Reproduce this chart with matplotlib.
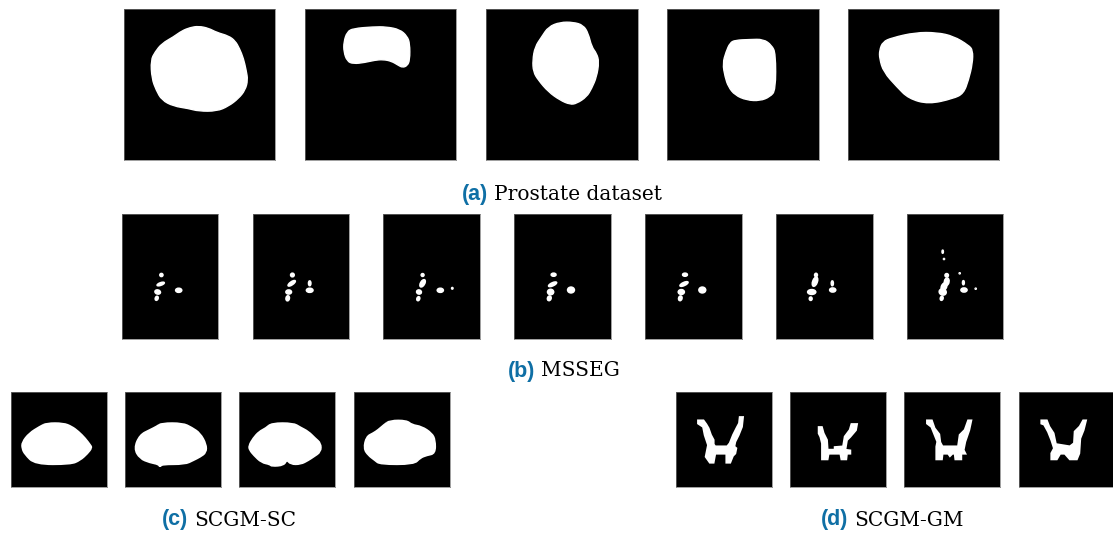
import matplotlib
matplotlib.use("Agg")
import matplotlib.pyplot as plt
from matplotlib.patches import Ellipse, PathPatch
from matplotlib.path import Path

W, H = 1113, 536
BLUE = "#0f6fa5"

# mask outlines at 3x zoom (x, y inside the crop)
prostate_1 = [(235,78),(265,84),(290,97),(325,107),(345,122),(358,145),(370,175),(378,210),(383,240),(375,270),(355,295),(325,318),(290,333),(235,333),(205,325),(160,318),(125,300),(108,270),(95,235),(92,180),(105,155),(125,130),(160,110),(185,92),(210,82)]
prostate_2 = [(700,85),(760,80),(800,80),(840,88),(862,108),(870,130),(870,180),(862,197),(848,202),(835,195),(815,183),(790,178),(765,180),(735,187),(700,191),(682,183),(672,155),(672,125),(682,95)]
prostate_3 = [(240,66),(280,66),(310,75),(325,100),(335,140),(350,160),(357,185),(350,230),(335,265),(320,290),(290,310),(270,313),(240,300),(205,275),(175,240),(160,215),(158,180),(165,140),(185,110),(205,80)]
prostate_4 = [(765,120),(810,118),(850,117),(875,135),(887,160),(887,270),(870,290),(840,302),(800,300),(765,285),(745,260),(735,230),(728,190),(738,155),(750,128)]
prostate_5 = [(225,97),(290,97),(340,108),(385,135),(398,150),(397,190),(385,240),(370,280),(340,295),(265,312),(205,295),(170,260),(130,215),(118,175),(118,150),(128,125),(155,113)]

sc_1 = [(140,115),(190,115),(215,125),(235,140),(255,160),(270,180),(275,188),(262,205),(240,225),(212,237),(105,237),(75,207),(67,190),(67,172),(88,145),(120,125)]
sc_2 = [(485,115),(548,115),(575,128),(600,145),(618,178),(618,202),(600,215),(580,225),(555,237),(485,237),(480,245),(476,237),(450,232),(420,220),(403,190),(420,150),(450,135),(470,125)]
sc_3 = [(125,115),(190,115),(210,127),(235,140),(255,160),(272,175),(272,200),(250,215),(235,225),(212,237),(182,237),(170,222),(162,240),(125,243),(120,237),(95,232),(72,210),(60,195),(57,183),(70,160),(88,140),(108,130)]
sc_4 = [(480,107),(530,107),(545,120),(575,125),(605,145),(615,165),(615,205),(590,210),(570,218),(552,237),(450,237),(435,225),(415,210),(402,190),(410,155),(430,145),(445,135),(462,120)]

gm_1 = [(85,107),(100,107),(108,118),(115,130),(122,150),(130,165),(130,178),(135,185),(172,185),(180,175),(190,150),(200,130),(208,115),(210,97),(218,97),(215,125),(205,150),(195,170),(192,185),(198,190),(195,205),(188,212),(180,232),(170,232),(170,205),(135,205),(130,232),(120,232),(108,215),(115,180),(105,150),(100,125),(85,115)]
gm_2 = [(447,127),(455,127),(460,145),(470,165),(472,195),(495,195),(495,187),(520,185),(525,155),(540,135),(545,118),(560,118),(557,135),(540,155),(530,165),(525,195),(540,197),(540,205),(530,205),(528,222),(515,222),(512,205),(475,205),(472,222),(457,222),(457,175),(452,155),(447,145)]
gm_3 = [(97,107),(110,107),(118,130),(132,148),(135,172),(142,185),(190,185),(195,150),(210,135),(220,107),(228,107),(222,135),(210,170),(205,195),(210,205),(198,205),(198,222),(182,222),(180,205),(172,205),(165,212),(160,205),(142,205),(140,222),(125,222),(125,185),(128,170),(120,150),(110,125),(97,115)]
gm_4 = [(440,107),(455,107),(462,125),(475,145),(482,178),(525,185),(538,175),(540,140),(555,125),(565,107),(572,107),(565,135),(555,160),(552,205),(545,222),(525,222),(510,205),(495,205),(485,222),(470,222),(470,205),(478,190),(470,165),(460,140),(448,118),(440,115)]

# MSSEG lesions: x, y, width, height, angle in panel pixels
msseg_1 = [(39.7,61,3,3,0),(39,70,7.5,2.5,-20),(36,78,5.5,4,15),(35,84.3,2.7,4,20),(57,76.3,6,4,0)]
msseg_2 = [(39.7,61,3.5,3.5,0),(39,69.3,8.5,3,-35),(36,78,5.5,4,0),(35,84.3,3.3,5,10),(57,69.3,2.3,4.7,0),(57,76.3,6.5,4,0)]
msseg_3 = [(39.3,61,2.7,2.7,0),(39.3,69.3,4,8,30),(35.7,78,4.7,4,15),(35,84.7,2.7,4,20),(57,76.3,6,4,0),(69,74.3,1.3,1.5,0)]
msseg_4 = [(39.3,60.7,4.7,3,0),(38.3,70.3,8.7,3,-25),(36.3,78,6,5.3,0),(35,84.3,3.5,4.7,20),(56.7,76,6.7,5.7,0)]
msseg_5 = [(40,60.7,4.7,3,0),(39,70,8.7,3,-25),(36.3,78,6,4.7,0),(35.3,84.3,3.3,4.7,15),(57.3,76,6.7,5.7,0)]
msseg_6 = [(40,61,2.7,3.3,0),(39,67.7,4.5,9.5,20),(35.7,78,8,4.7,0),(34.7,84.7,2.7,3.3,0),(56.7,76,6,4,0),(56.3,69.3,2,4.7,0)]
msseg_7 = [(36,37.7,1.2,3,0),(37.3,45,1,1,0),(40,61.3,3.3,3.3,0),(40,67.7,4.5,7.5,10),(37.3,72.7,5,8,25),(36,78,7,6,20),(35,84.3,2.7,4,15),(53,59.3,1,1,0),(57.3,76,6,4,0),(56.7,68.7,1.7,4,0),(69,74.7,1,1,0)]

# panel box in figure pixels
prostate_x = [123.5, 304.8, 486, 667, 847.5]
msseg_x = [121.7, 252.7, 383.3, 514.3, 645, 776, 906.7]
sc_x = [11, 125, 239.3, 354.3]
gm_x = [676, 790, 904.3, 1019.3]

# where each outline's crop puts the panel's corner
prostate_org = [(10,25), (555,25), (18,25), (561,25), (22,25)]
sc_org = [(33,20), (375,20), (28,20), (373,20)]
gm_org = [(18,20), (360,20), (28,20), (373,20)]

captions = [("(a)", "Prostate dataset", 462, 200),
            ("(b)", "MSSEG", 508, 376.5),
            ("(c)", "SCGM-SC", 162, 525.5),
            ("(d)", "SCGM-GM", 821, 525.5)]


def panel(left, top, width, height):
    ax = fig.add_axes([left / W, 1 - (top + height) / H, width / W, height / H])
    ax.set_facecolor("black")
    ax.set_xticks([])
    ax.set_yticks([])
    for s in ax.spines.values():
        s.set_linewidth(0.5)
        s.set_color("#777777")
    return ax


def rounded(outline):
    # quadratic curves through the edge midpoints, corners become control points
    n = len(outline)
    mids = [((outline[i][0] + outline[(i + 1) % n][0]) / 2,
             (outline[i][1] + outline[(i + 1) % n][1]) / 2) for i in range(n)]
    verts = [mids[-1]]
    codes = [Path.MOVETO]
    for i in range(n):
        verts += [outline[i], mids[i]]
        codes += [Path.CURVE3, Path.CURVE3]
    return Path(verts, codes)


def mask_panel(left, top, size, outline, org, smooth, lw):
    ax = panel(left, top, size, size)
    if smooth:
        ax.add_patch(PathPatch(rounded(outline), fc="white", ec="white", lw=lw))
    else:
        ax.fill([p[0] for p in outline], [p[1] for p in outline],
                fc="white", ec="white", lw=lw, joinstyle="miter")
    ax.set_xlim(org[0], org[0] + size * 3)
    ax.set_ylim(org[1] + size * 3, org[1])


fig = plt.figure(figsize=(W / 100, H / 100), dpi=100, facecolor="white")

for x, outline, org in zip(prostate_x, [prostate_1, prostate_2, prostate_3, prostate_4, prostate_5], prostate_org):
    mask_panel(x, 8.5, 151.5, outline, org, True, 1)

for x, blobs in zip(msseg_x, [msseg_1, msseg_2, msseg_3, msseg_4, msseg_5, msseg_6, msseg_7]):
    ax = panel(x, 214, 96.6, 125)
    for bx, by, bw, bh, ang in blobs:
        ax.add_patch(Ellipse((bx, by), bw, bh, angle=ang, fc="white", ec="white", lw=1.2))
    ax.set_xlim(0, 96.6)
    ax.set_ylim(125, 0)

for x, outline, org in zip(sc_x, [sc_1, sc_2, sc_3, sc_4], sc_org):
    mask_panel(x, 391.7, 95.5, outline, org, True, 1.6)

for x, outline, org in zip(gm_x, [gm_1, gm_2, gm_3, gm_4], gm_org):
    mask_panel(x, 391.7, 95.5, outline, org, False, 1.8)

for tag, name, x, y in captions:
    t = fig.text(x / W, 1 - y / H, tag, color=BLUE, fontsize=15.5, fontweight="bold",
                 family="Liberation Sans", va="baseline")
    fig.canvas.draw()
    right = t.get_window_extent().x1
    fig.text((right + 6) / W, 1 - y / H, name, color="black", fontsize=14.5,
             family="DejaVu Serif", va="baseline")

fig.savefig("out.png", dpi=100)
